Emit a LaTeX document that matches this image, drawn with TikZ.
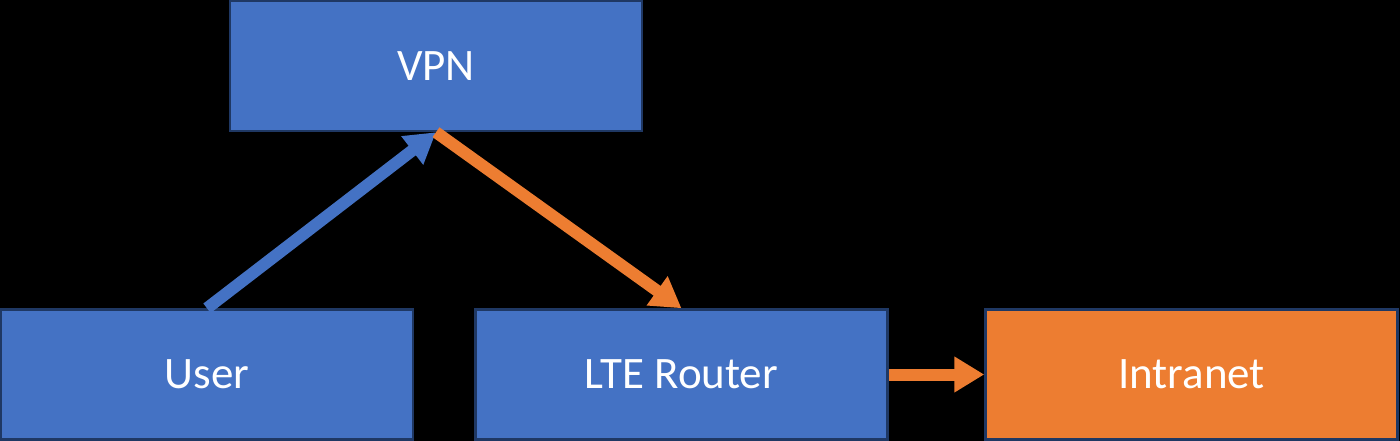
\documentclass[tikz,border=0pt]{standalone}
\usepackage{fontspec}
\setmainfont{Carlito}
\usetikzlibrary{arrows.meta}
\definecolor{boxblue}{HTML}{4472C4}
\definecolor{boxorange}{HTML}{ED7D31}
\definecolor{edgeblue}{HTML}{1F3864}
\tikzset{
  box/.style={draw=edgeblue, line width=2.5pt, fill=boxblue, minimum width=412pt, minimum height=130pt, inner sep=0pt, text=white, font=\fontsize{45}{52}\selectfont},
  obox/.style={box, fill=boxorange},
  barrow/.style={draw=boxblue, line width=12pt, -{Triangle[length=30pt, width=34pt]}},
  oarrow/.style={draw=boxorange, line width=12pt, -{Triangle[length=30pt, width=34pt]}},
}
\begin{document}
\begin{tikzpicture}[x=1pt, y=-1pt]
\fill[black] (0,0) rectangle (1400,441);
\useasboundingbox (0,0) rectangle (1400,441);
\node[box] (vpn) at (436,66) {VPN};
\node[box] (user) at (207,374.5) {User};
\node[box] (lte) at (681.5,374.5) {LTE Router};
\node[obox] (intranet) at (1191.5,374.5) {Intranet};
\draw[barrow] (user.north) -- (vpn.south);
\draw[oarrow] (vpn.south) -- (lte.north);
\draw[oarrow] (lte.east) -- (intranet.west);
\end{tikzpicture}
\end{document}
